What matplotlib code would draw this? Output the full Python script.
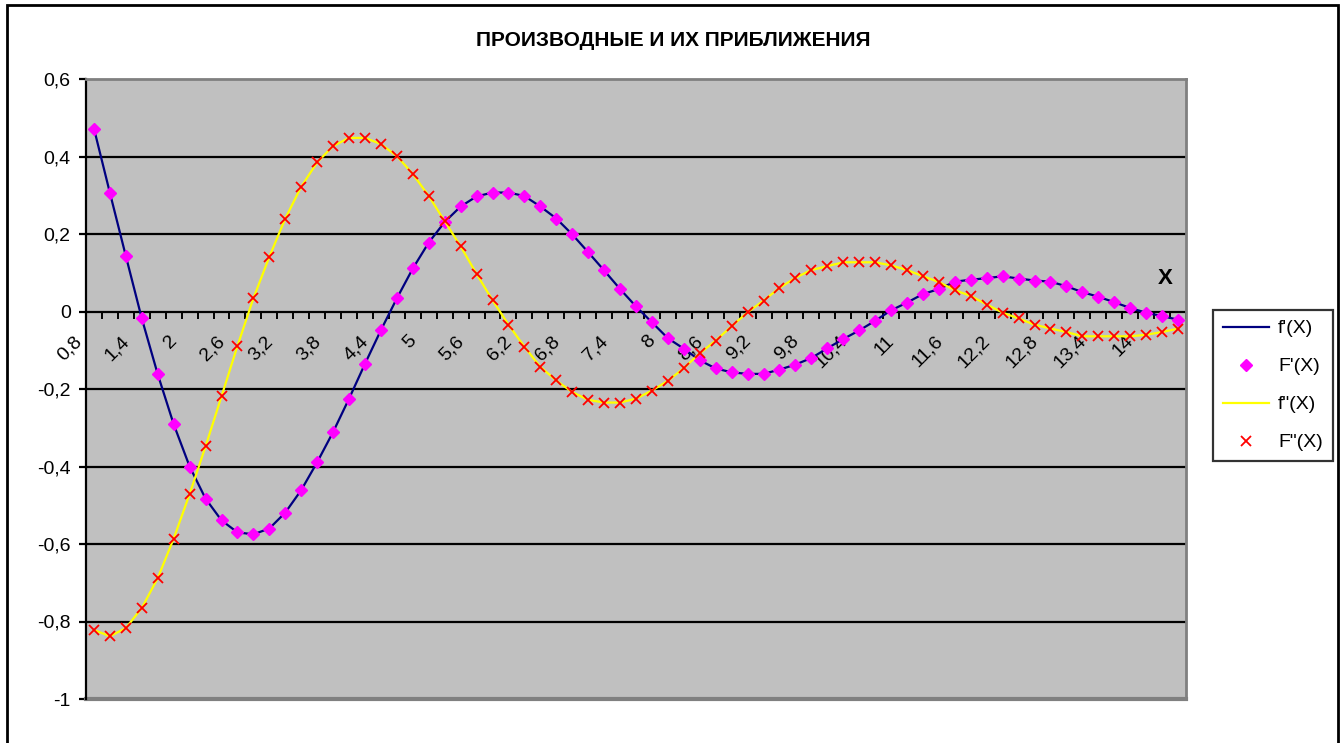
import numpy as np
import matplotlib.pyplot as plt
from matplotlib.patches import Rectangle
from matplotlib.transforms import ScaledTranslation

plt.rcParams['font.family'] = ['Liberation Sans', 'DejaVu Sans']

# categories (x values)
x_vals = [0.8, 1.0, 1.2, 1.4, 1.6, 1.8, 2.0, 2.2, 2.4, 2.6, 2.8, 3.0, 3.2, 3.4,
          3.6, 3.8, 4.0, 4.2, 4.4, 4.6, 4.8, 5.0, 5.2, 5.4, 5.6, 5.8, 6.0, 6.2,
          6.4, 6.6, 6.8, 7.0, 7.2, 7.4, 7.6, 7.8, 8.0, 8.2, 8.4, 8.6, 8.8, 9.0,
          9.2, 9.4, 9.6, 9.8, 10.0, 10.2, 10.4, 10.6, 10.8, 11.0, 11.2, 11.4,
          11.6, 11.8, 12.0, 12.2, 12.4, 12.6, 12.8, 13.0, 13.2, 13.4, 13.6,
          13.8, 14.0, 14.2, 14.4]

# first derivative (exact and approx)
d1 = [0.472, 0.306, 0.143, -0.018, -0.162, -0.291, -0.400, -0.483, -0.539,
      -0.570, -0.575, -0.560, -0.519, -0.461, -0.389, -0.311, -0.225, -0.135,
      -0.048, 0.034, 0.111, 0.178, 0.231, 0.271, 0.297, 0.307, 0.307, 0.298,
      0.271, 0.240, 0.199, 0.153, 0.106, 0.058, 0.013, -0.028, -0.069, -0.096,
      -0.126, -0.147, -0.157, -0.161, -0.161, -0.150, -0.137, -0.120, -0.095,
      -0.071, -0.049, -0.024, 0.003, 0.023, 0.045, 0.058, 0.077, 0.082, 0.086,
      0.091, 0.085, 0.080, 0.077, 0.065, 0.050, 0.038, 0.024, 0.009, -0.003,
      -0.012, -0.021]

# second derivative
d2 = [-0.822, -0.838, -0.817, -0.765, -0.688, -0.586, -0.471, -0.348, -0.219,
      -0.089, 0.034, 0.141, 0.240, 0.322, 0.385, 0.427, 0.448, 0.448, 0.432,
      0.401, 0.355, 0.298, 0.233, 0.168, 0.097, 0.029, -0.034, -0.091, -0.143,
      -0.178, -0.208, -0.228, -0.235, -0.235, -0.225, -0.204, -0.179, -0.146,
      -0.108, -0.075, -0.038, -0.002, 0.028, 0.061, 0.087, 0.107, 0.117, 0.127,
      0.127, 0.127, 0.119, 0.107, 0.091, 0.076, 0.055, 0.040, 0.018, -0.003,
      -0.018, -0.034, -0.044, -0.053, -0.064, -0.064, -0.064, -0.064, -0.060,
      -0.053, -0.044]

y_ticks = [0.6, 0.4, 0.2, 0, -0.2, -0.4, -0.6, -0.8, -1]

W, H = 1340, 743
FS = 14
fig = plt.figure(figsize=(W / 100, H / 100), dpi=100)
ax = fig.add_axes([86 / W, 1 - 699 / H, (1186 - 86) / W, (699 - 79) / H])
ax.set_facecolor('#C0C0C0')

idx = np.arange(len(x_vals))

for g in y_ticks:
    if g in (0.6, -1, 0):
        continue
    ax.axhline(g, color='black', lw=1.6, zorder=1)

ax.plot(idx, d1, color='#000080', lw=1.6, zorder=3, label="f'(X)")
ax.plot(idx, d1, ls='none', marker='D', ms=6.3, color='#FF00FF', zorder=4, label="F'(X)")
ax.plot(idx, d2, color='#FFFF00', lw=1.6, zorder=5, label='f"(X)')
ax.plot(idx, d2, ls='none', marker='x', ms=6.5, mew=1.3, color='#FF0000', zorder=6, label='F"(X)')

ax.set_xlim(-0.5, len(x_vals) - 0.5)
ax.set_ylim(-1, 0.6)

# spines
ax.spines['bottom'].set_position(('data', 0))
ax.spines['bottom'].set_linewidth(1.6)
ax.spines['bottom'].set_zorder(2)
ax.spines['left'].set_linewidth(1.6)
for s in ('top', 'right'):
    ax.spines[s].set_color('#808080')
    ax.spines[s].set_linewidth(2)
ax.axhline(-1, color='#808080', lw=3, zorder=2, clip_on=False)

# y axis
ax.set_yticks(y_ticks)
ax.set_yticklabels([('%g' % v).replace('.', ',') for v in y_ticks], fontsize=FS)
ax.tick_params(axis='y', direction='out', length=5, width=1.6, pad=6)

# x axis: ticks at category boundaries, labels every third
ax.set_xticks(np.arange(len(x_vals) + 1) - 0.5, minor=True)
lab_idx = idx[::3]
ax.set_xticks(lab_idx)
ax.set_xticklabels([('%g' % x_vals[i]).replace('.', ',') for i in lab_idx],
                   fontsize=FS, rotation=45, ha='right', va='center',
                   rotation_mode='anchor')
ax.tick_params(axis='x', which='major', length=0, pad=0)
ax.tick_params(axis='x', which='minor', direction='out', length=5, width=1.4)
off = ScaledTranslation(-0.15, -0.27, fig.dpi_scale_trans)
for lab in ax.get_xticklabels():
    lab.set_transform(lab.get_transform() + off)

ax.text((1165 - 86) / 1100, (699 - 278) / 620, 'X', transform=ax.transAxes,
        fontsize=16, fontweight='bold', ha='center', va='center')

fig.text(673.5 / W, 1 - 41 / H, 'ПРОИЗВОДНЫЕ И ИХ ПРИБЛИЖЕНИЯ',
         fontsize=15, fontweight='bold', ha='center', va='center')

leg = fig.legend(loc='upper left', bbox_to_anchor=(1213 / W, 1 - 310 / H),
                 fontsize=FS, frameon=True, fancybox=False, edgecolor='black',
                 handlelength=2.4, handletextpad=0.45, labelspacing=1.05,
                 borderpad=0.5, borderaxespad=0)
leg.get_frame().set_linewidth(1.6)

# outer chart frame
fig.add_artist(Rectangle((7 / W, -0.02), 1331 / W, 1.02 - 5 / H,
                         transform=fig.transFigure, fill=False,
                         edgecolor='black', lw=2))

fig.savefig('out.png', dpi=100)
